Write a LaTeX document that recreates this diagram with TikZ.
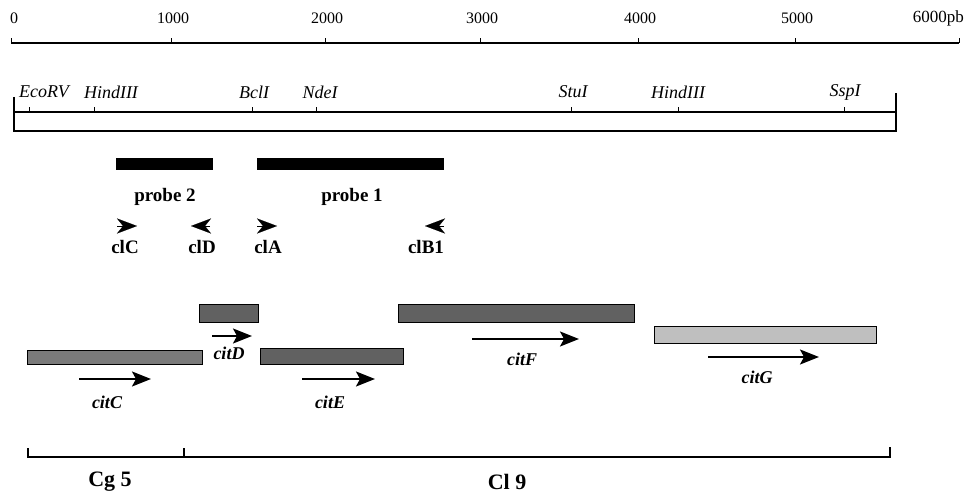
\documentclass[tikz,border=0pt]{standalone}
\usepackage{fontspec}
\setmainfont{Liberation Serif}
\usetikzlibrary{arrows.meta, calc, positioning}

\tikzset{
  scalelabel/.style={font=\fontsize{16}{16}\selectfont, inner sep=0pt},
  sitelabel/.style={font=\fontsize{18}{18}\selectfont\itshape, inner sep=0pt},
  boldlabel/.style={font=\fontsize{19}{19}\selectfont\bfseries, inner sep=0pt},
  genelabel/.style={font=\fontsize{18}{18}\selectfont\bfseries\itshape, inner sep=0pt},
  clonelabel/.style={font=\fontsize{22}{22}\selectfont\bfseries, inner sep=0pt},
  probebar/.style={fill=black, minimum height=12pt, inner sep=0pt},
  genebar/.style={draw, line width=0.8pt, inner sep=0pt},
  primer/.style={line width=0.1pt, -{Stealth[length=20pt, width=15pt, inset=6pt]}},
  genearrow/.style={line width=2pt, -{Stealth[length=19pt, width=15pt, inset=4pt]}}
}

\begin{document}
\begin{tikzpicture}[x=1pt, y=-1pt]
  \useasboundingbox (0,0) rectangle (966,494);

  \draw[line width=1.2pt] (11,43) -- (959,43);
  \foreach \x in {11, 171, 325, 480, 638, 795, 959}
    \draw[line width=1pt] (\x,43) -- (\x,38);
  \node[scalelabel, anchor=west] (s0) at (10,18) {0};
  \foreach \x/\t in {171/1000, 325/2000, 480/3000, 638/4000, 795/5000}
    \node[scalelabel] (s\t) at (\x+2,18) {\t};
  \node[scalelabel, font=\fontsize{17}{17}\selectfont, anchor=east] (s6000) at (964,18) {6000pb};

  \draw[line width=1.4pt] (14,97) -- (14,131) -- (896,131) -- (896,93);
  \draw[line width=1.4pt] (14,112) -- (896,112);
  \foreach \x in {29, 94, 252, 316, 571, 678, 844}
    \draw[line width=1pt] (\x,112) -- (\x,107);
  \node[sitelabel] (ecorv) at (44,92) {EcoRV};
  \node[sitelabel] (hind1) at (111,92) {HindIII};
  \node[sitelabel] (bcl) at (254,92) {BclI};
  \node[sitelabel] (nde) at (320,92) {NdeI};
  \node[sitelabel] (stu) at (573,92) {StuI};
  \node[sitelabel] (hind2) at (678,92) {HindIII};
  \node[sitelabel] (ssp) at (845,92) {SspI};

  \node[probebar, minimum width=97pt] (probe2bar) at (164.5,164) {};
  \node[probebar, minimum width=187pt] (probe1bar) at (350.5,164) {};
  \node[boldlabel] (probe2) at (165,197) {probe 2};
  \node[boldlabel] (probe1) at (352,197) {probe 1};

  \node[boldlabel] (clC) at (125,247) {clC};
  \node[boldlabel] (clD) at (202,247) {clD};
  \node[boldlabel] (clA) at (268,247) {clA};
  \node[boldlabel] (clB1) at (426,247) {clB1};
  \draw[primer] ($(clC)+(-8,-21)$) -- ++(20,0);
  \draw[primer] ($(clD)+(8,-21)$) -- ++(-19,0);
  \draw[primer] ($(clA)+(-11,-21)$) -- ++(20,0);
  \draw[primer] ($(clB1)+(18,-21)$) -- ++(-19,0);

  \node[genebar, fill=black!52, minimum width=175pt, minimum height=14pt] (citCbar) at (114.5,357) {};
  \node[genebar, fill=black!62, minimum width=59pt, minimum height=18pt] (citDbar) at (228.5,313) {};
  \node[genebar, fill=black!62, minimum width=143pt, minimum height=16pt] (citEbar) at (331.5,356) {};
  \node[genebar, fill=black!62, minimum width=236pt, minimum height=18pt] (citFbar) at (516,313) {};
  \node[genebar, fill=black!25, minimum width=222pt, minimum height=17pt] (citGbar) at (765,334.5) {};

  \node[genelabel] (citC) at (107,402) {citC};
  \node[genelabel] (citD) at (229,353) {citD};
  \node[genelabel] (citE) at (330,402) {citE};
  \node[genelabel] (citF) at (522,359) {citF};
  \node[genelabel] (citG) at (757,377) {citG};
  \draw[genearrow] ($(citC)+(-28,-23)$) -- ++(72,0);
  \draw[genearrow] ($(citD)+(-17,-17)$) -- ++(40,0);
  \draw[genearrow] ($(citE)+(-28,-23)$) -- ++(73,0);
  \draw[genearrow] ($(citF)+(-50,-20)$) -- ++(107,0);
  \draw[genearrow] ($(citG)+(-49,-20)$) -- ++(111,0);

  \draw[line width=2pt] (28,448) -- (28,457) -- (890,457) -- (890,447);
  \draw[line width=1.4pt] (184,457) -- (184,448);
  \node[clonelabel] (cg5) at (110,482) {Cg 5};
  \node[clonelabel] (cl9) at (507,482) {Cl 9};
\end{tikzpicture}
\end{document}
